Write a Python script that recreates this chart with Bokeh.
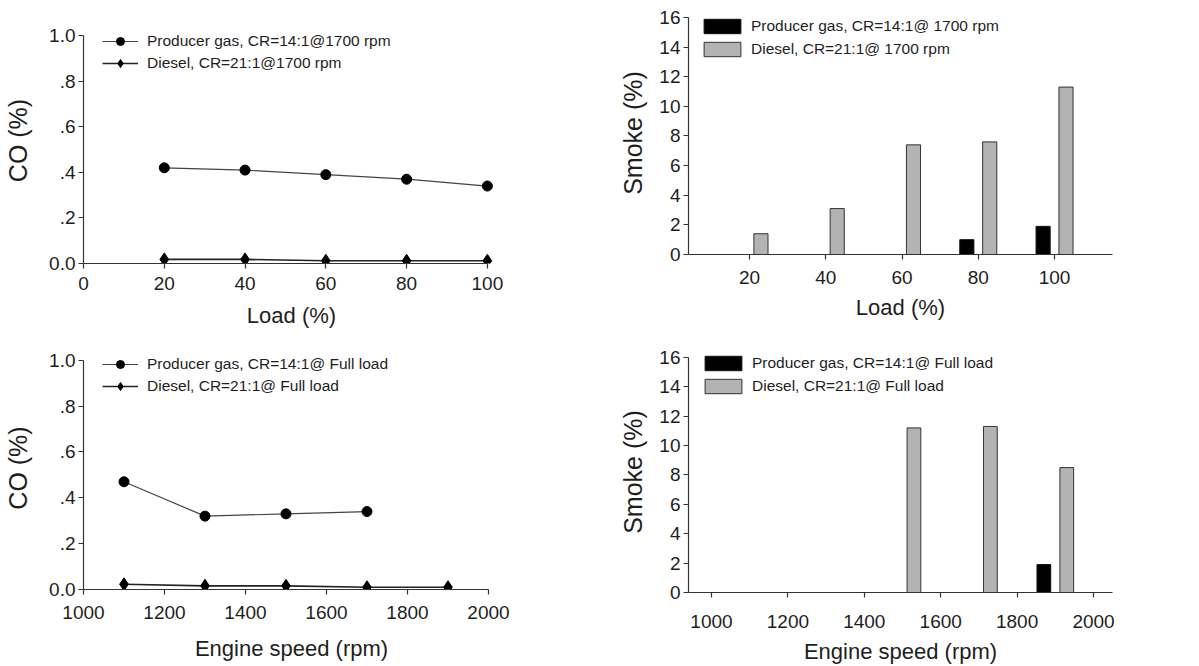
from bokeh.plotting import figure
from bokeh.layouts import column, row
from bokeh.models import FixedTicker, Legend, LegendItem, Range1d
from bokeh.transform import dodge
from bokeh.embed import file_html
from bokeh.resources import INLINE

# ---------------- data ----------------
load = [20, 40, 60, 80, 100]
co_pg_load = [0.42, 0.41, 0.39, 0.37, 0.34]
co_diesel_load = [0.018, 0.018, 0.012, 0.012, 0.012]

speed_pg = [1100, 1300, 1500, 1700]
co_pg_speed = [0.47, 0.32, 0.33, 0.34]
speed_diesel = [1100, 1300, 1500, 1700, 1900]
co_diesel_speed = [0.023, 0.016, 0.016, 0.010, 0.010]

smoke_pg_load = [0, 0, 0, 1.0, 1.9]
smoke_diesel_load = [1.4, 3.1, 7.4, 7.6, 11.3]

speed_bar = [1500, 1700, 1900]
smoke_pg_speed = [0, 0, 1.9]
smoke_diesel_speed = [11.2, 11.3, 8.5]

co_ticks = [0, 0.2, 0.4, 0.6, 0.8, 1.0]
co_tick_labels = {0: "0.0", 0.2: ".2", 0.4: ".4", 0.6: ".6", 0.8: ".8", 1.0: "1.0"}
smoke_ticks = [0, 2, 4, 6, 8, 10, 12, 14, 16]
load_ticks_line = [0, 20, 40, 60, 80, 100]
load_ticks_bar = [20, 40, 60, 80, 100]
speed_ticks = [1000, 1200, 1400, 1600, 1800, 2000]

# ---------------- style ----------------
FONT = "Liberation Sans"
TXT = "#1e1e1e"
AX = "#333333"
GRAY = "#b3b3b3"


def base(width, xr, yr, left, right, top, bottom):
    p = figure(width=width, height=333,
               x_range=Range1d(*xr), y_range=Range1d(*yr),
               output_backend="svg", toolbar_location=None,
               min_border_left=left, min_border_right=right,
               min_border_top=top, min_border_bottom=bottom)
    p.grid.visible = False
    p.outline_line_color = None
    for ax in p.axis:
        ax.axis_line_color = AX
        ax.axis_line_width = 1.2
        ax.major_tick_line_color = AX
        ax.major_tick_line_width = 1.2
        ax.minor_tick_line_color = None
        ax.major_tick_out = 5
        ax.major_tick_in = 0
        ax.major_label_text_font = FONT
        ax.major_label_text_font_size = "19px"
        ax.major_label_text_color = TXT
        ax.axis_label_text_font = FONT
        ax.axis_label_text_font_style = "normal"
        ax.axis_label_text_color = TXT
    p.xaxis.axis_label_text_font_size = "22px"
    p.yaxis.axis_label_text_font_size = "25px"
    p.yaxis.major_label_standoff = 3
    return p


def line_panel(xs1, ys1, xs2, ys2, xr, yr, xticks, xlabel, lab1, lab2, top, bottom,
               leg_loc, xbounds, tick_so, lab_so):
    p = base(600, xr, yr, 83, 101, top, bottom)
    p.xaxis.bounds = xbounds
    p.yaxis.bounds = (0, 1)
    p.xaxis.ticker = FixedTicker(ticks=xticks)
    p.yaxis.ticker = FixedTicker(ticks=co_ticks)
    p.yaxis.major_label_overrides = co_tick_labels
    p.xaxis.axis_label = xlabel
    p.yaxis.axis_label = "CO (%)"
    p.yaxis.axis_label_standoff = 14
    p.xaxis.major_label_standoff = tick_so
    p.xaxis.axis_label_standoff = lab_so
    l1 = p.line(xs1, ys1, line_color="#444444", line_width=1.2)
    s1 = p.scatter(xs1, ys1, marker="circle", size=10, fill_color="black", line_color="black")
    l2 = p.line(xs2, ys2, line_color="#222222", line_width=1.6)
    s2 = p.scatter(xs2, ys2, marker="diamond", size=13, fill_color="black", line_color="black")
    leg = Legend(items=[LegendItem(label=lab1, renderers=[l1, s1]),
                        LegendItem(label=lab2, renderers=[l2, s2])],
                 location=leg_loc, padding=0, margin=0, spacing=2,
                 border_line_color=None, background_fill_alpha=0,
                 label_text_font=FONT, label_text_font_size="15.5px", label_text_color=TXT,
                 glyph_width=36, glyph_height=20, label_height=20, label_standoff=9)
    p.add_layout(leg)
    return p


def bar_panel(xs, pg, dsl, xr, xticks, off, w, xlabel, lab1, lab2, top, bottom, leg_loc,
              tick_so, lab_so):
    p = base(599, xr, (0, 16.4), 88, 87, top, bottom)
    p.yaxis.bounds = (0, 16)
    p.xaxis.ticker = FixedTicker(ticks=xticks)
    p.yaxis.ticker = FixedTicker(ticks=smoke_ticks)
    p.xaxis.axis_label = xlabel
    p.yaxis.axis_label = "Smoke (%)"
    p.yaxis.axis_label_standoff = 9
    p.xaxis.major_label_standoff = tick_so
    p.xaxis.axis_label_standoff = lab_so
    src = dict(x=xs, pg=pg, d=dsl)
    r1 = p.vbar(x=dodge("x", -off, range=p.x_range), top="pg", width=w, source=src,
                fill_color="black", line_color="#111111", line_width=1)
    r2 = p.vbar(x=dodge("x", off, range=p.x_range), top="d", width=w, source=src,
                fill_color=GRAY, line_color="#333333", line_width=1)
    leg = Legend(items=[LegendItem(label=lab1, renderers=[r1]),
                        LegendItem(label=lab2, renderers=[r2])],
                 location=leg_loc, padding=0, margin=0, spacing=3,
                 border_line_color=None, background_fill_alpha=0,
                 label_text_font=FONT, label_text_font_size="15.5px", label_text_color=TXT,
                 glyph_width=46, glyph_height=18, label_height=20, label_standoff=6)
    p.add_layout(leg)
    return p


p1 = line_panel(load, co_pg_load, load, co_diesel_load, (0, 103), (0, 1.08), load_ticks_line, "Load (%)",
                "Producer gas, CR=14:1@1700 rpm", "Diesel, CR=21:1@1700 rpm",
                top=17, bottom=70, leg_loc=(19, 190), xbounds=(0, 100), tick_so=8, lab_so=10)
p3 = line_panel(speed_pg, co_pg_speed, speed_diesel, co_diesel_speed, (1000, 2027.2), (0, 1.06), speed_ticks,
                "Engine speed (rpm)", "Producer gas, CR=14:1@ Full load", "Diesel, CR=21:1@ Full load",
                top=13, bottom=77, leg_loc=(19, 193), xbounds=(1000, 2000), tick_so=11, lab_so=14)
p2 = bar_panel(load, smoke_pg_load, smoke_diesel_load, (4, 115.2), load_ticks_bar, 3, 3.7, "Load (%)",
               "Producer gas, CR=14:1@ 1700 rpm", "Diesel, CR=21:1@ 1700 rpm",
               top=11, bottom=79, leg_loc=(11, 195), tick_so=11, lab_so=8)
p4 = bar_panel(speed_bar, smoke_pg_speed, smoke_diesel_speed, (939.8, 2049.7), speed_ticks, 30, 36,
               "Engine speed (rpm)", "Producer gas, CR=14:1@ Full load", "Diesel, CR=21:1@ Full load",
               top=18, bottom=73, leg_loc=(12, 196), tick_so=17, lab_so=8)

layout = row(column(p1, p3, spacing=0), column(p2, p4, spacing=0), spacing=0)
open("out.html", "w").write(file_html(layout, INLINE))
